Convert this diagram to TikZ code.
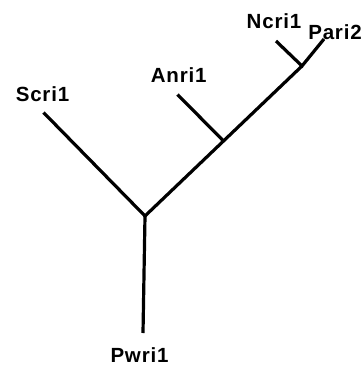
\documentclass[tikz,border=0pt]{standalone}
\usepackage{fontspec}
\setmainfont{Liberation Sans}[LetterSpace=4]
\begin{document}
\begin{tikzpicture}[x=1pt,y=-1pt,
  branch/.style={line width=3.2pt,line cap=butt,line join=miter},
  taxon/.style={inner sep=0pt,font=\fontsize{20.5}{21}\selectfont\bfseries}]
\useasboundingbox (0,0) rectangle (363,368);
% internal points
\coordinate (R) at (145,216);
\coordinate (A) at (223.5,141);
\coordinate (J) at (302,66);
% leaf ends
\coordinate (pe) at (143,333);
\coordinate (se) at (43.5,112.5);
\coordinate (ae) at (177.5,94.5);
\coordinate (ne) at (276,41);
\coordinate (qe) at (324,39);
% labels
\node[taxon] (pwri) at (139.5,355) {Pwri1};
\node[taxon] (scri) at (42.5,94) {Scri1};
\node[taxon] (anri) at (178.7,75) {Anri1};
\node[taxon] (ncri) at (274,21) {Ncri1};
\node[taxon] (pari) at (335,32) {Pari2};
% branches
\draw[branch] (pe) -- (R);
\draw[branch] (se) -- (R) -- (A) -- (J);
\draw[branch] (ae) -- (A);
\draw[branch] (ne) -- (J) -- (qe);
\end{tikzpicture}
\end{document}
